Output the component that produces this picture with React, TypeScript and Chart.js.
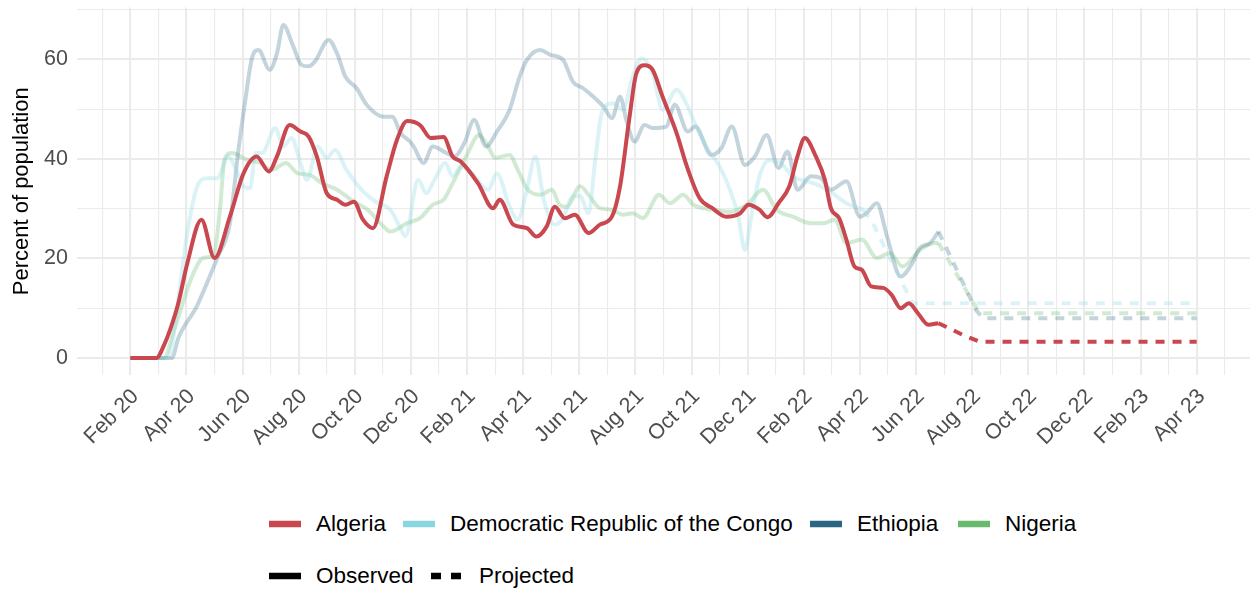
import React, { useEffect, useRef } from "react";
import { Chart, registerables } from "chart.js";

Chart.register(...registerables);

// ---------- data ----------
const tickLabels = [
  "Feb 20", "Apr 20", "Jun 20", "Aug 20", "Oct 20", "Dec 20",
  "Feb 21", "Apr 21", "Jun 21", "Aug 21", "Oct 21", "Dec 21",
  "Feb 22", "Apr 22", "Jun 22", "Aug 22", "Oct 22", "Dec 22",
  "Feb 23", "Apr 23",
];
const yTicks = [0, 10, 20, 30, 40, 50, 60, 70];

const countries = ["Algeria", "Democratic Republic of the Congo", "Ethiopia", "Nigeria"];
const countryColors = ["#C9474F", "#88D6E0", "#2B6584", "#68BA6C"];

const algeriaObserved: [string, number][] = [
  ["2020-02-01", 0], ["2020-02-28", 0], ["2020-03-07", 2.5], ["2020-03-14", 5.7],
  ["2020-03-23", 11], ["2020-04-02", 19.1], ["2020-04-17", 27.8], ["2020-05-01", 20.1],
  ["2020-05-18", 28.4], ["2020-06-02", 37.1], ["2020-06-16", 40.5], ["2020-06-29", 37.5],
  ["2020-07-08", 40.5], ["2020-07-22", 46.8], ["2020-08-03", 45.5], ["2020-08-12", 44.5],
  ["2020-08-21", 40.5], ["2020-09-01", 33.1], ["2020-09-12", 31.8], ["2020-09-21", 30.8],
  ["2020-09-30", 31.4], ["2020-10-10", 27.8], ["2020-10-21", 26.1], ["2020-11-05", 36.5],
  ["2020-11-16", 43.8], ["2020-11-27", 47.6], ["2020-12-11", 46.8], ["2020-12-23", 44.2],
  ["2021-01-06", 44.4], ["2021-01-16", 40.5], ["2021-01-25", 39.5], ["2021-02-12", 35.1],
  ["2021-02-27", 30.1], ["2021-03-06", 31.8], ["2021-03-21", 26.8], ["2021-04-05", 26.1],
  ["2021-04-15", 24.4], ["2021-04-26", 26.4], ["2021-05-05", 30.4], ["2021-05-16", 28.1],
  ["2021-05-27", 28.8], ["2021-06-11", 25.1], ["2021-06-23", 26.8], ["2021-07-06", 28.4],
  ["2021-07-15", 34.5], ["2021-07-25", 47.8], ["2021-08-02", 57.2], ["2021-08-11", 58.8],
  ["2021-08-20", 57.9], ["2021-08-31", 52.5], ["2021-09-15", 45.2], ["2021-09-26", 38.5],
  ["2021-10-10", 32.1], ["2021-10-24", 30.1], ["2021-11-08", 28.4], ["2021-11-23", 29.1],
  ["2021-12-02", 30.8], ["2021-12-14", 29.8], ["2021-12-23", 28.3], ["2022-01-04", 31.1],
  ["2022-01-16", 34.5], ["2022-01-25", 40.5], ["2022-02-02", 44.2], ["2022-02-13", 40.5],
  ["2022-02-22", 35.8], ["2022-02-28", 30.1], ["2022-03-09", 28.1], ["2022-03-17", 23.8],
  ["2022-03-26", 18.4], ["2022-04-03", 17.7], ["2022-04-13", 14.4], ["2022-04-26", 14.1],
  ["2022-05-05", 12.7], ["2022-05-15", 10.0], ["2022-05-24", 11.0], ["2022-06-03", 9.0],
  ["2022-06-14", 6.7], ["2022-06-25", 7.0],
];
const algeriaProjected: [string, number][] = [
  ["2022-06-25", 7.0], ["2022-07-03", 6.3], ["2022-07-21", 4.7], ["2022-08-09", 3.3],
  ["2023-04-01", 3.3],
];

const drcObserved: [string, number][] = [
  ["2020-02-01", 0], ["2020-03-11", 0], ["2020-03-17", 3.5], ["2020-03-24", 13.0],
  ["2020-04-03", 26.4], ["2020-04-14", 35.1], ["2020-04-23", 36.1], ["2020-05-04", 36.1],
  ["2020-05-16", 40.5], ["2020-05-25", 37.8], ["2020-06-02", 34.5], ["2020-06-09", 34.1],
  ["2020-06-15", 41.2], ["2020-06-22", 41.2], ["2020-07-06", 46.2], ["2020-07-15", 42.5],
  ["2020-07-24", 44.2], ["2020-08-03", 39.2], ["2020-08-10", 35.8], ["2020-08-22", 42.5],
  ["2020-09-01", 40.2], ["2020-09-10", 41.8], ["2020-09-22", 37.8], ["2020-10-10", 33.5],
  ["2020-10-24", 31.4], ["2020-11-09", 29.8], ["2020-11-19", 26.4], ["2020-11-25", 24.5],
  ["2020-12-09", 35.8], ["2020-12-18", 33.1], ["2020-12-27", 35.8], ["2021-01-08", 39.2],
  ["2021-01-16", 36.5], ["2021-01-25", 38.5], ["2021-02-06", 37.1], ["2021-02-22", 33.8],
  ["2021-03-03", 37.1], ["2021-03-17", 30.4], ["2021-03-26", 27.8], ["2021-04-05", 33.8],
  ["2021-04-14", 40.5], ["2021-04-23", 31.8], ["2021-05-05", 26.8], ["2021-05-14", 28.1],
  ["2021-05-25", 32.5], ["2021-06-02", 32.5], ["2021-06-11", 29.1], ["2021-06-18", 39.8],
  ["2021-06-25", 49.2], ["2021-07-07", 51.2], ["2021-07-18", 49.9], ["2021-07-29", 56.5],
  ["2021-08-08", 60.2], ["2021-08-20", 57.2], ["2021-08-31", 49.9], ["2021-09-15", 53.9],
  ["2021-09-27", 50.5], ["2021-10-03", 47.8], ["2021-10-17", 42.5], ["2021-11-01", 38.5],
  ["2021-11-12", 33.8], ["2021-11-21", 28.4], ["2021-11-28", 21.7], ["2021-12-05", 28.4],
  ["2021-12-14", 36.5], ["2021-12-25", 39.8], ["2022-01-06", 39.2], ["2022-01-20", 36.5],
  ["2022-02-11", 35.1], ["2022-02-27", 33.5], ["2022-03-17", 31.1], ["2022-04-05", 29.8],
];
const drcProjected: [string, number][] = [
  ["2022-04-05", 29.8], ["2022-04-15", 27.0], ["2022-05-28", 11.0], ["2023-04-01", 11.0],
];

const ethiopiaObserved: [string, number][] = [
  ["2020-02-01", 0], ["2020-03-16", 0], ["2020-03-23", 4.0], ["2020-04-12", 10.4],
  ["2020-04-23", 15.1], ["2020-05-04", 20.1], ["2020-05-18", 27.1], ["2020-05-27", 41.2],
  ["2020-06-04", 51.9], ["2020-06-11", 60.2], ["2020-06-18", 61.9], ["2020-06-30", 57.9],
  ["2020-07-08", 61.2], ["2020-07-15", 66.9], ["2020-07-26", 62.6], ["2020-08-04", 58.9],
  ["2020-08-12", 58.6], ["2020-08-19", 59.6], ["2020-09-03", 63.9], ["2020-09-12", 61.2],
  ["2020-09-21", 56.5], ["2020-10-03", 54.2], ["2020-10-14", 50.9], ["2020-11-02", 48.5],
  ["2020-11-11", 48.5], ["2020-11-20", 45.2], ["2020-11-30", 43.5], ["2020-12-04", 42.5],
  ["2020-12-15", 39.2], ["2020-12-25", 42.5], ["2021-01-09", 41.2], ["2021-01-18", 40.5],
  ["2021-01-29", 43.2], ["2021-02-08", 47.8], ["2021-02-20", 42.5], ["2021-03-03", 45.5],
  ["2021-03-17", 49.9], ["2021-03-28", 56.5], ["2021-04-05", 59.9], ["2021-04-19", 61.9],
  ["2021-04-30", 60.9], ["2021-05-14", 59.9], ["2021-05-25", 55.5], ["2021-06-05", 54.2],
  ["2021-06-16", 52.5], ["2021-06-27", 50.5], ["2021-07-06", 48.2], ["2021-07-15", 52.5],
  ["2021-07-22", 47.8], ["2021-07-31", 43.5], ["2021-08-11", 46.8], ["2021-08-20", 46.2],
  ["2021-09-04", 46.5], ["2021-09-13", 50.9], ["2021-09-27", 45.5], ["2021-10-05", 46.5],
  ["2021-10-23", 40.8], ["2021-11-03", 42.2], ["2021-11-14", 46.5], ["2021-11-28", 38.8],
  ["2021-12-09", 40.5], ["2021-12-22", 44.8], ["2022-01-04", 38.2], ["2022-01-14", 41.5],
  ["2022-01-25", 33.8], ["2022-02-08", 36.5], ["2022-02-18", 36.1], ["2022-02-28", 33.8],
  ["2022-03-17", 35.5], ["2022-04-01", 28.4], ["2022-04-08", 29.1], ["2022-04-19", 31.1],
  ["2022-04-30", 24.4], ["2022-05-15", 16.4], ["2022-05-28", 19.1], ["2022-06-05", 22.1],
  ["2022-06-16", 23.1], ["2022-06-25", 25.4],
];
const ethiopiaProjected: [string, number][] = [
  ["2022-06-25", 25.4], ["2022-08-05", 9.7], ["2022-08-13", 8.0], ["2023-04-01", 8.0],
];

const nigeriaObserved: [string, number][] = [
  ["2020-02-01", 0], ["2020-03-07", 0], ["2020-03-19", 6.0], ["2020-04-07", 16.4],
  ["2020-04-19", 20.1], ["2020-04-30", 20.7], ["2020-05-07", 29.8], ["2020-05-12", 39.8],
  ["2020-05-20", 41.2], ["2020-06-06", 39.8], ["2020-06-20", 39.2], ["2020-07-02", 37.8],
  ["2020-07-18", 39.2], ["2020-07-31", 37.1], ["2020-08-13", 36.8], ["2020-08-27", 35.1],
  ["2020-09-12", 33.8], ["2020-09-30", 31.4], ["2020-10-15", 29.8], ["2020-11-02", 26.4],
  ["2020-11-09", 25.4], ["2020-11-27", 27.1], ["2020-12-11", 28.1], ["2020-12-25", 30.8],
  ["2021-01-06", 31.8], ["2021-01-16", 35.1], ["2021-01-31", 40.5], ["2021-02-13", 44.8],
  ["2021-02-22", 42.5], ["2021-03-01", 40.2], ["2021-03-17", 40.8], ["2021-03-26", 37.8],
  ["2021-04-06", 33.8], ["2021-04-19", 32.8], ["2021-05-02", 33.8], ["2021-05-10", 30.8],
  ["2021-05-18", 30.4], ["2021-06-02", 34.5], ["2021-06-12", 32.5], ["2021-06-23", 30.1],
  ["2021-07-06", 29.8], ["2021-07-18", 28.8], ["2021-07-29", 29.1], ["2021-08-09", 28.1],
  ["2021-08-27", 32.8], ["2021-09-08", 31.1], ["2021-09-22", 32.8], ["2021-10-03", 30.8],
  ["2021-10-24", 29.8], ["2021-11-12", 29.4], ["2021-11-30", 30.8], ["2021-12-18", 33.8],
  ["2022-01-02", 29.8], ["2022-01-20", 28.4], ["2022-02-08", 27.1], ["2022-02-21", 27.1],
  ["2022-03-04", 27.8], ["2022-03-17", 23.1], ["2022-04-03", 23.8], ["2022-04-19", 20.1],
  ["2022-05-03", 21.1], ["2022-05-17", 18.4], ["2022-06-05", 21.7], ["2022-06-21", 23.1],
  ["2022-06-25", 23.1],
];
const nigeriaProjected: [string, number][] = [
  ["2022-06-25", 23.1], ["2022-08-09", 9.0], ["2023-04-01", 9.0],
];

const observedSeries = [algeriaObserved, drcObserved, ethiopiaObserved, nigeriaObserved];
const projectedSeries = [algeriaProjected, drcProjected, ethiopiaProjected, nigeriaProjected];
const seriesAlpha = [1, 0.3, 0.28, 0.3];

// ---------- helpers ----------
function toMonth(d: string): number {
  const [y, mo, da] = d.split("-").map(Number);
  const dim = new Date(y, mo, 0).getDate();
  return (y - 2020) * 12 + (mo - 2) + (da - 1) / dim;
}
function hexA(hex: string, a: number): string {
  const r = parseInt(hex.slice(1, 3), 16);
  const g = parseInt(hex.slice(3, 5), 16);
  const b = parseInt(hex.slice(5, 7), 16);
  return `rgba(${r},${g},${b},${a})`;
}
const pts = (s: [string, number][]) => s.map(([d, v]) => ({ x: toMonth(d), y: v }));

const FONT = "'Liberation Sans', Arial, Helvetica, sans-serif";
const CANVAS_H = 480;
const PLOT_LEFT = 77;
const PLOT_BOTTOM = 375;

function ChartCanvas() {
  const ref = useRef<HTMLCanvasElement | null>(null);
  useEffect(() => {
    if (!ref.current) return;
    const datasets: any[] = [];
    countries.forEach((name, i) => {
      const col = hexA(countryColors[i], seriesAlpha[i]);
      datasets.push({
        label: name + " observed",
        data: pts(observedSeries[i]),
        borderColor: col,
        borderWidth: 4,
        pointRadius: 0,
        cubicInterpolationMode: "monotone",
        fill: false,
        order: i * 2,
      });
      datasets.push({
        label: name + " projected",
        data: pts(projectedSeries[i]),
        borderColor: col,
        borderWidth: 4,
        borderDash: [9, 8],
        pointRadius: 0,
        tension: 0,
        fill: false,
        order: i * 2 + 1,
      });
    });
    const xMin = -1.9;
    const xMax = (tickLabels.length - 1) * 2 + 1.9;
    const chart = new Chart(ref.current, {
      type: "line",
      data: { datasets },
      options: {
        animation: false,
        responsive: false,
        maintainAspectRatio: false,
        layout: { padding: { top: 7.6, left: 0, right: 0, bottom: 0 } },
        plugins: { legend: { display: false }, tooltip: { enabled: false } },
        scales: {
          x: {
            type: "linear",
            min: xMin,
            max: xMax,
            afterBuildTicks: (scale: any) => {
              const t: any[] = [];
              for (let m = -1; m <= xMax; m++) t.push({ value: m });
              scale.ticks = t;
            },
            afterFit: (scale: any) => {
              scale.height = CANVAS_H - PLOT_BOTTOM;
              scale.paddingLeft = 0;
              scale.paddingRight = 0;
            },
            ticks: {
              autoSkip: false,
              maxRotation: 45,
              minRotation: 45,
              padding: 9,
              labelOffset: 5,
              color: "#4D4D4D",
              font: { family: FONT, size: 21.5 },
              callback: (v: any) => {
                const m = Number(v);
                return m >= 0 && m % 2 === 0 ? tickLabels[m / 2] ?? "" : "";
              },
            },
            grid: {
              color: "#EBEBEB",
              lineWidth: (ctx: any) => (ctx.tick && ctx.tick.value % 2 === 0 ? 2.1 : 1.1),
              drawTicks: false,
            },
            border: { display: false },
          },
          y: {
            type: "linear",
            min: -3.4,
            max: 70.4,
            afterBuildTicks: (scale: any) => {
              scale.ticks = yTicks.map((v) => ({ value: v }));
            },
            afterFit: (scale: any) => {
              scale.width = PLOT_LEFT;
              scale.paddingTop = 0;
              scale.paddingBottom = 0;
            },
            ticks: {
              padding: 9,
              color: "#4D4D4D",
              font: { family: FONT, size: 21.5 },
              callback: (v: any) => (Number(v) % 20 === 0 ? String(v) : ""),
            },
            grid: {
              color: "#EBEBEB",
              lineWidth: (ctx: any) => (ctx.tick && ctx.tick.value % 20 === 0 ? 2.1 : 1.1),
              drawTicks: false,
            },
            border: { display: false },
            title: {
              display: true,
              text: "Percent of population",
              color: "#000000",
              font: { family: FONT, size: 22 },
              padding: { top: 9, bottom: 4 },
            },
          },
        },
      } as any,
    });
    return () => chart.destroy();
  }, []);
  return <canvas ref={ref} width={1250} height={CANVAS_H} style={{ position: "absolute", left: 0, top: 0 }} />;
}

const legendLefts = [269, 403, 810, 958];
const legend2Lefts = [269, 430];

function Key({ color, dashed }: { color: string; dashed?: boolean }) {
  return (
    <svg width={32} height={10} style={{ display: "block" }}>
      <line
        x1={dashed ? 1 : 0}
        y1={5}
        x2={32}
        y2={5}
        stroke={color}
        strokeWidth={6.5}
        strokeDasharray={dashed ? "10 10" : undefined}
      />
    </svg>
  );
}

export default function App() {
  const itemStyle = (left: number, top: number): React.CSSProperties => ({
    position: "absolute",
    left,
    top,
    height: 30,
    display: "flex",
    alignItems: "center",
    fontFamily: FONT,
    fontSize: 22.5,
    color: "#000",
    whiteSpace: "nowrap",
  });
  return (
    <div style={{ position: "fixed", left: 0, top: 0, width: 1250, height: 593, background: "#fff", overflow: "hidden" }}>
      <ChartCanvas />
      {countries.map((c, i) => (
        <div key={c} style={itemStyle(legendLefts[i], 509)}>
          <Key color={countryColors[i]} />
          <span style={{ marginLeft: 15 }}>{c}</span>
        </div>
      ))}
      <div style={itemStyle(legend2Lefts[0], 561)}>
        <Key color="#000" />
        <span style={{ marginLeft: 15 }}>Observed</span>
      </div>
      <div style={itemStyle(legend2Lefts[1], 561)}>
        <Key color="#000" dashed />
        <span style={{ marginLeft: 17 }}>Projected</span>
      </div>
    </div>
  );
}
